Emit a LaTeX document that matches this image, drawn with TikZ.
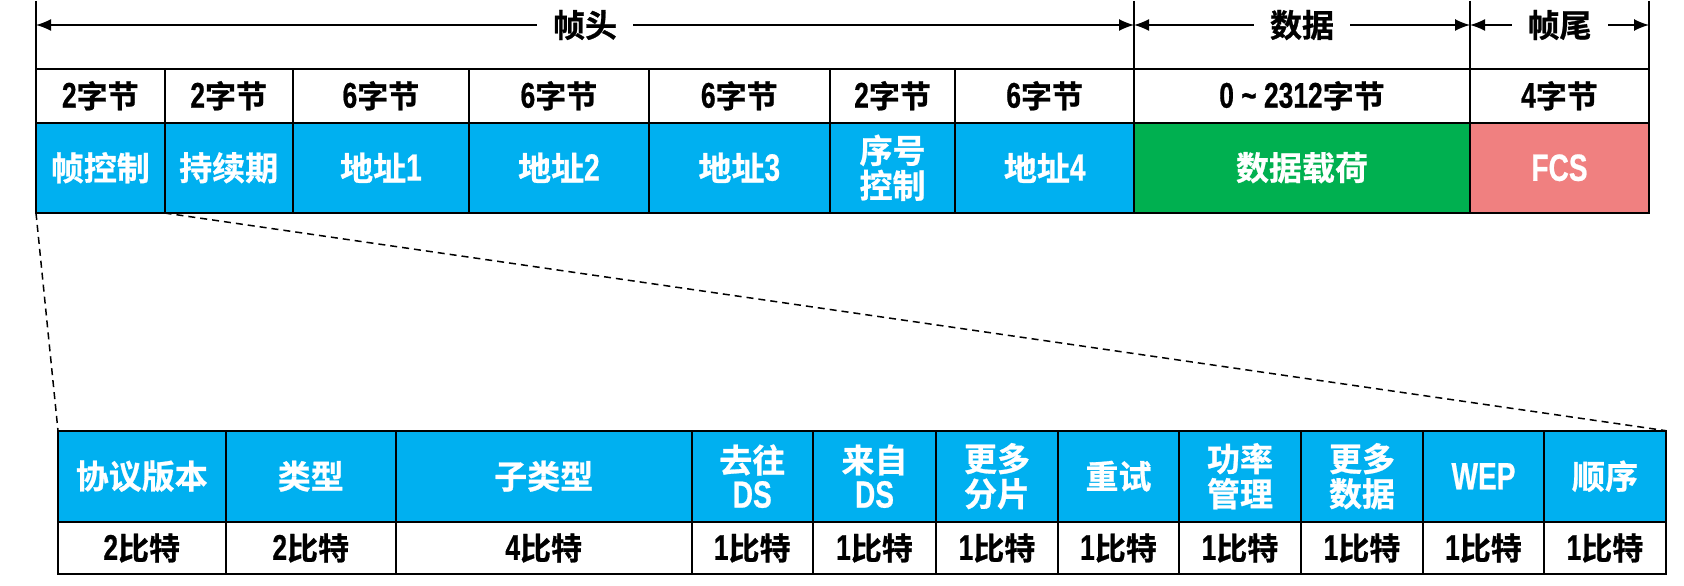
\documentclass[tikz,border=0pt]{standalone}
\usepackage{fontspec}
\setmainfont{Noto Sans CJK SC}[BoldFont={Noto Sans CJK SC Bold},BoldFeatures={FakeBold=0.8}]
\newfontfamily\lat{Liberation Sans}[Scale=1.15,FakeStretch=0.74,BoldFeatures={FakeBold=0.6}]
\usetikzlibrary{arrows.meta}
\definecolor{cblue}{HTML}{00B0F0}
\definecolor{cgreen}{HTML}{00B050}
\definecolor{cpink}{HTML}{F08080}
\newcommand{\lt}[1]{{\lat #1}}
\newcommand{\cell}[7]{%
  \node[#6, minimum width={(#3-#2)*1pt}, minimum height={(#5-#4)*1pt}]
    (#1) at ({(#2+#3)/2},{(#4+#5)/2}) {#7};}
\tikzset{
  cellbase/.style={draw=black, line width=2pt, inner sep=0pt, outer sep=0pt,
    align=center, font=\bfseries\fontsize{33}{35}\selectfont},
  bluecell/.style={cellbase, fill=cblue, text=white},
  greencell/.style={cellbase, fill=cgreen, text=white},
  pinkcell/.style={cellbase, fill=cpink, text=white},
  sizecell/.style={cellbase, fill=white, text=black,
    font=\bfseries\fontsize{31}{33}\selectfont},
  guide/.style={line width=1.5pt, black},
  span/.style={guide, {Latex[length=15pt,width=12pt]}-{Latex[length=15pt,width=12pt]}},
  spanlabel/.style={fill=white, inner xsep=16pt, inner ysep=2pt,
    font=\bfseries\fontsize{32}{34}\selectfont},
  zoomline/.style={line width=1.5pt, dash pattern=on 7pt off 5pt}
}
\begin{document}
\begin{tikzpicture}[x=1pt,y=-1pt]
\useasboundingbox (0,0) rectangle (1684,586);
% top size row
\cell{s1}{36}{164.6}{69}{122.5}{sizecell}{\lt{2}字节}
\cell{s2}{164.6}{292.8}{69}{122.5}{sizecell}{\lt{2}字节}
\cell{s3}{292.8}{469}{69}{122.5}{sizecell}{\lt{6}字节}
\cell{s4}{469}{648.8}{69}{122.5}{sizecell}{\lt{6}字节}
\cell{s5}{648.8}{829.8}{69}{122.5}{sizecell}{\lt{6}字节}
\cell{s6}{829.8}{955.3}{69}{122.5}{sizecell}{\lt{2}字节}
\cell{s7}{955.3}{1134}{69}{122.5}{sizecell}{\lt{6}字节}
\cell{s8}{1134}{1470}{69}{122.5}{sizecell}{\lt{0 \textasciitilde{} 2312}字节}
\cell{s9}{1470}{1649}{69}{122.5}{sizecell}{\lt{4}字节}
% top field row
\cell{fc}{36}{164.6}{122.5}{213}{bluecell}{帧控制}
\cell{du}{164.6}{292.8}{122.5}{213}{bluecell}{持续期}
\cell{a1}{292.8}{469}{122.5}{213}{bluecell}{地址\lt{1}}
\cell{a2}{469}{648.8}{122.5}{213}{bluecell}{地址\lt{2}}
\cell{a3}{648.8}{829.8}{122.5}{213}{bluecell}{地址\lt{3}}
\cell{sq}{829.8}{955.3}{122.5}{213}{bluecell}{序号\\控制}
\cell{a4}{955.3}{1134}{122.5}{213}{bluecell}{地址\lt{4}}
\cell{pl}{1134}{1470}{122.5}{213}{greencell}{数据载荷}
\cell{fcs}{1470}{1649}{122.5}{213}{pinkcell}{\lt{FCS}}
% guide lines and spans
\coordinate (g0) at (36,1);
\coordinate (g1) at (1134,1);
\coordinate (g2) at (1470,1);
\coordinate (g3) at (1649,1);
\draw[guide] (g0) -- (s1.north west);
\draw[guide] (g1) -- (s8.north west);
\draw[guide] (g2) -- (s9.north west);
\draw[guide] (g3) -- (s9.north east);
\coordinate (h0) at (36,25);
\coordinate (h1) at (1134,25);
\coordinate (h2) at (1470,25);
\coordinate (h3) at (1649,25);
\draw[span] (h0) -- (h1) node[midway, spanlabel] (lh) {帧头};
\draw[span] (h1) -- (h2) node[midway, spanlabel] (ld) {数据};
\draw[span] (h2) -- (h3) node[midway, spanlabel] (lt) {帧尾};
% lower field row
\cell{pv}{58}{225.5}{430.7}{521.7}{bluecell}{协议版本}
\cell{ty}{225.5}{396}{430.7}{521.7}{bluecell}{类型}
\cell{st}{396}{691.5}{430.7}{521.7}{bluecell}{子类型}
\cell{td}{691.5}{813}{430.7}{521.7}{bluecell}{去往\\\lt{DS}}
\cell{fd}{813}{936}{430.7}{521.7}{bluecell}{来自\\\lt{DS}}
\cell{mf}{936}{1058}{430.7}{521.7}{bluecell}{更多\\分片}
\cell{rt}{1058}{1179}{430.7}{521.7}{bluecell}{重试}
\cell{pm}{1179}{1301}{430.7}{521.7}{bluecell}{功率\\管理}
\cell{md}{1301}{1423}{430.7}{521.7}{bluecell}{更多\\数据}
\cell{wp}{1423}{1544}{430.7}{521.7}{bluecell}{\lt{WEP}}
\cell{od}{1544}{1666}{430.7}{521.7}{bluecell}{顺序}
% lower bit row
\cell{b1}{58}{225.5}{521.7}{574.3}{sizecell}{\lt{2}比特}
\cell{b2}{225.5}{396}{521.7}{574.3}{sizecell}{\lt{2}比特}
\cell{b3}{396}{691.5}{521.7}{574.3}{sizecell}{\lt{4}比特}
\cell{b4}{691.5}{813}{521.7}{574.3}{sizecell}{\lt{1}比特}
\cell{b5}{813}{936}{521.7}{574.3}{sizecell}{\lt{1}比特}
\cell{b6}{936}{1058}{521.7}{574.3}{sizecell}{\lt{1}比特}
\cell{b7}{1058}{1179}{521.7}{574.3}{sizecell}{\lt{1}比特}
\cell{b8}{1179}{1301}{521.7}{574.3}{sizecell}{\lt{1}比特}
\cell{b9}{1301}{1423}{521.7}{574.3}{sizecell}{\lt{1}比特}
\cell{b10}{1423}{1544}{521.7}{574.3}{sizecell}{\lt{1}比特}
\cell{b11}{1544}{1666}{521.7}{574.3}{sizecell}{\lt{1}比特}
% zoom lines
\draw[zoomline] (fc.south west) -- (pv.north west);
\draw[zoomline] (fc.south east) -- (od.north east);
\end{tikzpicture}
\end{document}
